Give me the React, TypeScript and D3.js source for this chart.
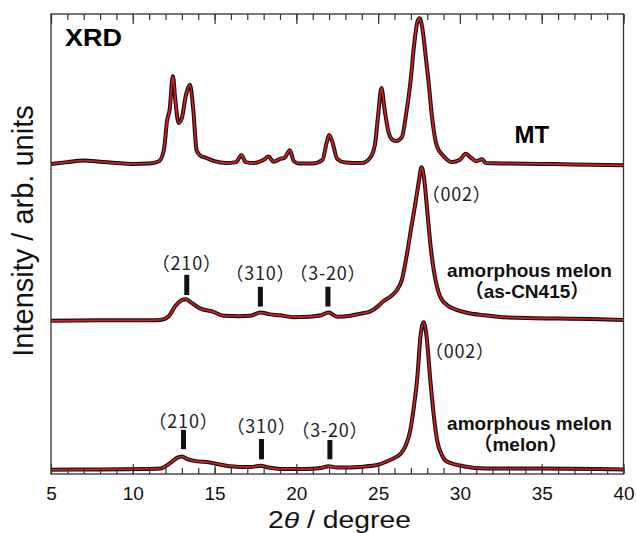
import { useEffect, useRef } from "react";
import * as d3 from "d3";

// x axis ticks
const tickLabels = [5, 10, 15, 20, 25, 30, 35, 40];

// vertical offsets of the three patterns (arb. units)
const offsets = [6.7, 3.3, 0];
const seriesNames = ["MT", "as-CN415", "melon"];

// MT
const mtTheta = [5, 6, 7, 8, 9, 10, 11, 11.6, 11.9, 12.1, 12.25, 12.45, 12.6, 12.8, 13.0, 13.25, 13.5, 13.7, 13.9, 14.1, 14.5, 15, 15.7, 16.3, 16.65, 16.9, 17.4, 18, 18.3, 18.6, 19, 19.3, 19.6, 19.85, 20.2, 21, 21.6, 21.85, 22, 22.2, 22.5, 23, 23.5, 24, 24.5, 24.8, 25, 25.2, 25.4, 25.65, 25.9, 26.1, 26.46, 26.7, 26.97, 27.2, 27.4, 27.53, 27.7, 27.9, 28.09, 28.3, 28.6, 29, 29.5, 30, 30.35, 30.7, 31, 31.35, 31.6, 33, 35, 37, 40];
const mtIntensity = [0.04, 0.08, 0.115, 0.09, 0.06, 0.04, 0.05, 0.10, 0.34, 0.99, 1.21, 1.95, 1.43, 0.93, 1.04, 1.54, 1.76, 1.21, 0.34, 0.23, 0.17, 0.10, 0.06, 0.08, 0.23, 0.08, 0.06, 0.13, 0.20, 0.09, 0.15, 0.18, 0.34, 0.10, 0.05, 0.05, 0.13, 0.50, 0.67, 0.52, 0.15, 0.07, 0.06, 0.06, 0.17, 0.45, 1.10, 1.69, 1.21, 0.71, 0.56, 0.54, 0.63, 1.10, 1.80, 2.63, 3.13, 3.21, 3.00, 2.41, 1.80, 1.04, 0.42, 0.21, 0.08, 0.13, 0.26, 0.17, 0.10, 0.14, 0.06, 0.05, 0.04, 0.03, 0.01];

// amorphous melon (as-CN415)
const cnTheta = [5, 8, 11, 11.7, 12.2, 12.6, 13.0, 13.26, 13.6, 14.1, 14.9, 15.55, 16.5, 17.2, 17.8, 18.4, 19, 19.8, 20.8, 21.5, 21.97, 22.5, 23.3, 24, 24.5, 25, 25.3, 25.8, 26.15, 26.45, 26.77, 27, 27.28, 27.5, 27.65, 27.8, 28, 28.2, 28.4, 28.6, 28.8, 29.3, 29.8, 30.5, 31.5, 32.3, 34, 36, 38, 40];
const cnIntensity = [0.03, 0.04, 0.04, 0.05, 0.13, 0.35, 0.48, 0.50, 0.42, 0.30, 0.23, 0.14, 0.13, 0.14, 0.21, 0.17, 0.15, 0.11, 0.12, 0.15, 0.21, 0.12, 0.14, 0.19, 0.23, 0.35, 0.45, 0.57, 0.70, 0.92, 1.50, 2.0, 2.59, 3.09, 3.37, 3.15, 2.43, 1.68, 1.13, 0.77, 0.55, 0.35, 0.27, 0.20, 0.15, 0.12, 0.09, 0.08, 0.07, 0.05];

// amorphous melon (melon)
const melonTheta = [5, 8, 11, 11.7, 12.3, 12.7, 13.0, 13.3, 13.7, 14.7, 15.95, 17.2, 17.8, 18.3, 19, 20.5, 21.5, 21.97, 22.5, 24.1, 25, 25.5, 26, 26.4, 26.7, 26.97, 27.2, 27.38, 27.6, 27.78, 27.95, 28.19, 28.4, 28.6, 28.9, 29.2, 30.2, 31.6, 35, 40];
const melonIntensity = [0.09, 0.10, 0.11, 0.12, 0.24, 0.35, 0.38, 0.33, 0.29, 0.25, 0.17, 0.15, 0.18, 0.14, 0.11, 0.11, 0.13, 0.17, 0.14, 0.16, 0.20, 0.27, 0.35, 0.45, 0.63, 0.96, 1.50, 2.04, 3.02, 3.30, 3.02, 2.04, 1.28, 0.74, 0.41, 0.27, 0.17, 0.12, 0.12, 0.10];

// hkl annotations: label text, 2theta, label baseline, marker bottom/top (arb. units)
const hklText = ["（210）", "（310）", "（3-20）", "（210）", "（310）", "（3-20）"];
const hklTheta = [13.3, 17.8, 21.93, 13.1, 17.87, 22.05];
const hklLabelY = [4.43, 4.22, 4.22, 0.99, 0.885, 0.8];
const hklBarLow = [3.89, 3.64, 3.64, 0.54, 0.32, 0.32];
const hklBarHigh = [4.33, 4.07, 4.07, 0.96, 0.76, 0.74];

// (002) labels
const peakText = ["（002）", "（002）"];
const peakTheta = [29.8, 30.0];
const peakLabelY = [5.94, 2.52];

// sample names
const sampleLines = ["amorphous melon", "（as-CN415）", "amorphous melon", "（melon）"];
const sampleTheta = [34.25, 34.1, 34.25, 33.7];
const sampleY = [4.29, 3.82, 0.96, 0.51];

export default function App() {
  const svgRef = useRef<SVGSVGElement>(null);

  useEffect(() => {
    const width = 636;
    const height = 533;
    const left = 51, right = 623.5, top = 14, bottom = 474;
    const svg = d3.select(svgRef.current).attr("width", width).attr("height", height);
    svg.selectAll("*").remove();

    const x = d3.scaleLinear().domain([5, 40]).range([left, right]);
    const y = d3.scaleLinear().domain([0, 10]).range([bottom, top]);
    const font = "'Liberation Sans', Arial, 'Noto Sans CJK JP', sans-serif";
    const cjk = "'Noto Sans CJK JP', sans-serif";

    // patterns
    const series = [
      d3.zip(mtTheta, mtIntensity),
      d3.zip(cnTheta, cnIntensity),
      d3.zip(melonTheta, melonIntensity),
    ];
    series.forEach((data, i) => {
      const line = d3
        .line<number[]>()
        .x((d) => x(d[0]))
        .y((d) => y(d[1] + offsets[i]))
        .curve(d3.curveMonotoneX);
      const g = svg.append("g").attr("class", "pattern-" + seriesNames[i]);
      g.append("path")
        .attr("d", line(data))
        .attr("fill", "none")
        .attr("stroke", "#111")
        .attr("stroke-width", 4)
        .attr("stroke-linejoin", "round");
      g.append("path")
        .attr("d", line(data))
        .attr("fill", "none")
        .attr("stroke", "#d81e1e")
        .attr("stroke-width", 1.7);
    });

    // frame
    svg.append("rect")
      .attr("x", left).attr("y", top)
      .attr("width", right - left).attr("height", bottom - top)
      .attr("fill", "none").attr("stroke", "#333").attr("stroke-width", 1.3);

    // axes (ticks pointing inward)
    const minor = d3.range(5, 41, 1);
    const styleAxis = (g: any) => {
      g.select(".domain").remove();
      g.selectAll(".tick line").attr("stroke", "#333").attr("stroke-width", 1.2);
    };
    svg.append("g").attr("transform", `translate(0,${bottom})`)
      .call(d3.axisBottom(x).tickValues(minor).tickSize(-6).tickFormat(() => ""))
      .call(styleAxis);
    svg.append("g").attr("transform", `translate(0,${bottom})`)
      .call(d3.axisBottom(x).tickValues(tickLabels).tickSize(-10).tickPadding(13).tickFormat(d3.format("d")))
      .call(styleAxis)
      .call((g: any) => g.selectAll(".tick text").attr("font-family", font).attr("font-size", 19).attr("fill", "#111"));
    svg.append("g").attr("transform", `translate(0,${top})`)
      .call(d3.axisTop(x).tickValues(minor).tickSize(-6).tickFormat(() => ""))
      .call(styleAxis);
    svg.append("g").attr("transform", `translate(0,${top})`)
      .call(d3.axisTop(x).tickValues(tickLabels).tickSize(-10).tickFormat(() => ""))
      .call(styleAxis);

    // axis titles
    const xt = svg.append("text")
      .attr("x", 268).attr("y", 528)
      .attr("font-family", font).attr("font-size", 23).attr("fill", "#111")
      .attr("textLength", 143).attr("lengthAdjust", "spacingAndGlyphs");
    xt.append("tspan").text("2");
    xt.append("tspan").attr("font-style", "italic").text("θ");
    xt.append("tspan").text(" / degree");

    svg.append("text")
      .attr("transform", `translate(33,231) rotate(-90)`)
      .attr("text-anchor", "middle")
      .attr("font-family", font).attr("font-size", 29).attr("fill", "#111")
      .text("Intensity / arb. units");

    // XRD and MT labels
    svg.append("text")
      .attr("x", x(5.86)).attr("y", y(9.3))
      .attr("font-family", font).attr("font-weight", "bold").attr("font-size", 24)
      .attr("textLength", 57).attr("lengthAdjust", "spacingAndGlyphs")
      .text("XRD");
    svg.append("text")
      .attr("x", x(34.4)).attr("y", y(7.2)).attr("text-anchor", "middle")
      .attr("font-family", font).attr("font-weight", "bold").attr("font-size", 24)
      .text("MT");

    // sample names
    sampleLines.forEach((t, i) => {
      svg.append("text")
        .attr("x", x(sampleTheta[i])).attr("y", y(sampleY[i])).attr("text-anchor", "middle")
        .attr("font-family", font).attr("font-weight", "bold").attr("font-size", 19).attr("fill", "#111")
        .text(t);
    });

    // hkl labels and markers
    hklText.forEach((t, i) => {
      svg.append("text")
        .attr("x", x(hklTheta[i])).attr("y", y(hklLabelY[i])).attr("text-anchor", "middle")
        .attr("font-family", cjk).attr("font-size", 18).attr("letter-spacing", 0.8).attr("fill", "#222")
        .text(t);
      svg.append("rect")
        .attr("x", x(hklTheta[i]) - 2.5).attr("width", 5)
        .attr("y", y(hklBarHigh[i])).attr("height", y(hklBarLow[i]) - y(hklBarHigh[i]))
        .attr("fill", "#111");
    });
    peakText.forEach((t, i) => {
      svg.append("text")
        .attr("x", x(peakTheta[i])).attr("y", y(peakLabelY[i])).attr("text-anchor", "middle")
        .attr("font-family", cjk).attr("font-size", 18).attr("letter-spacing", 0.8).attr("fill", "#222")
        .text(t);
    });
  }, []);

  return (
    <svg
      ref={svgRef}
      width={636}
      height={533}
      style={{ position: "absolute", left: 0, top: 0, background: "#fff" }}
    />
  );
}
